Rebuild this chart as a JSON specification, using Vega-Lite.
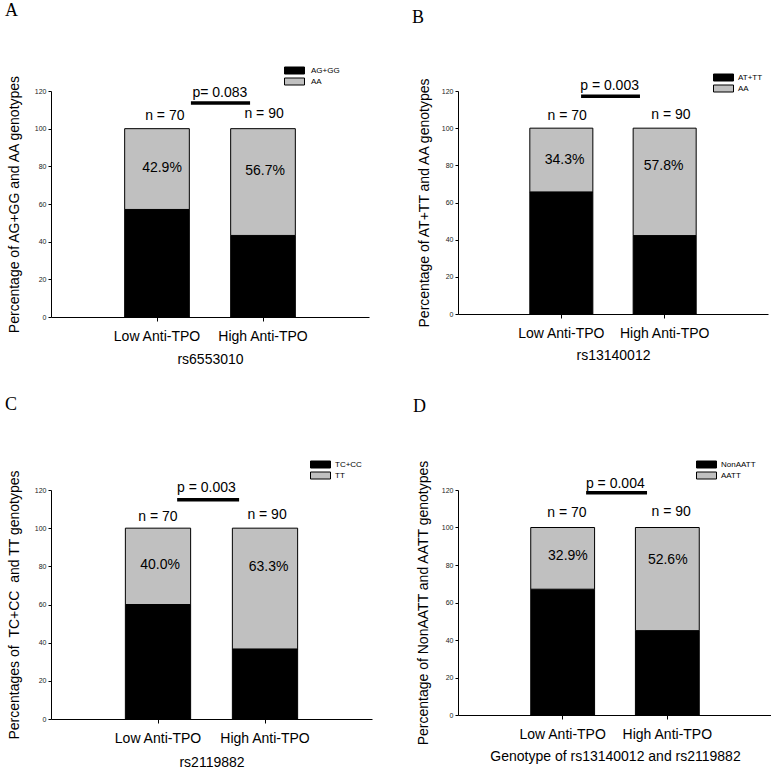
{
  "$schema": "https://vega.github.io/schema/vega-lite/v6.json",
  "padding": {"left": 5, "top": 2, "right": 0, "bottom": 0},
  "background": "white",
  "config": {
    "font": "Liberation Sans",
    "view": {"stroke": null},
    "axis": {"grid": false, "domainColor": "#000", "tickColor": "#000", "labelColor": "#222", "titleColor": "#000", "titleFontWeight": "normal", "titleFont": "Liberation Sans", "labelFont": "Liberation Sans"},
    "axisY": {"values": [0, 20, 40, 60, 80, 100, 120], "labelFontSize": 7, "tickSize": 3, "labelPadding": 2, "titleFontSize": 14, "titleBaseline": "middle", "titleAlign": "center"},
    "axisX": {"labelAngle": 0, "labelFontSize": 14, "labelColor": "#000", "tickSize": 4, "labelPadding": 8, "titleFontSize": 14, "titleBaseline": "middle"},
    "legend": {"labelFont": "Liberation Sans", "labelColor": "#000"}
  },
  "columns": 2,
  "spacing": {"row": 173, "column": 86},
  "bounds": "flush",
  "resolve": {"scale": {"color": "independent", "x": "independent", "y": "independent"}, "legend": {"color": "independent"}},
  "concat": [
    {
      "width": 318, "height": 226,
      "title": {"text": "A", "anchor": "start", "frame": "group", "font": "Liberation Serif", "fontSize": 18, "fontWeight": "normal", "dx": -46, "offset": 46, "color": "#000"},
      "resolve": {"scale": {"x": "independent"}},
      "layer": [
        {
          "data": {"values": [
            {"group": "Low Anti-TPO", "genotype": "AG+GG", "pct": 57.1, "ord": 1},
            {"group": "Low Anti-TPO", "genotype": "AA", "pct": 42.9, "ord": 2},
            {"group": "High Anti-TPO", "genotype": "AG+GG", "pct": 43.3, "ord": 1},
            {"group": "High Anti-TPO", "genotype": "AA", "pct": 56.7, "ord": 2}
          ]},
          "mark": {"type": "bar", "stroke": "#000", "strokeWidth": 1},
          "encoding": {
            "x": {"field": "group", "type": "nominal", "sort": ["Low Anti-TPO", "High Anti-TPO"],
              "scale": {"paddingInner": 0.39, "paddingOuter": 0.695},
              "axis": {"title": "rs6553010", "titleY": 42}},
            "y": {"field": "pct", "type": "quantitative", "stack": "zero",
              "scale": {"domain": [0, 120], "nice": false},
              "axis": {"title": "Percentage of AG+GG and AA genotypes", "titleX": -37, "titleY": 113}},
            "color": {"field": "genotype", "type": "nominal",
              "scale": {"domain": ["AG+GG", "AA"], "range": ["#000000", "#c0c0c0"]},
              "legend": {"orient": "none", "legendX": 233, "legendY": -25, "title": null, "symbolType": "M-1,-0.35H1V0.35H-1Z", "symbolSize": 400, "symbolStrokeColor": "#000", "symbolStrokeWidth": 1, "symbolOpacity": 1, "labelFontSize": 8, "labelOffset": 6, "clipHeight": 9, "rowPadding": 2, "padding": 0}},
            "order": {"field": "ord", "type": "quantitative"}
          }
        },
        {
          "data": {"values": [
            {"label": "n = 70", "px": 35.8, "py": 106.7},
            {"label": "n = 90", "px": 67.0, "py": 107.8},
            {"label": "42.9%", "px": 34.9, "py": 78.9},
            {"label": "56.7%", "px": 67.3, "py": 77.5},
            {"label": "p= 0.083", "px": 53.1, "py": 119}
          ]},
          "mark": {"type": "text", "fontSize": 14, "align": "center", "baseline": "middle", "color": "#000"},
          "encoding": {
            "x": {"field": "px", "type": "quantitative", "scale": {"domain": [0, 100], "nice": false}, "axis": null},
            "y": {"field": "py", "type": "quantitative", "scale": {"domain": [0, 120], "nice": false}, "axis": {"title": "Percentage of AG+GG and AA genotypes", "titleX": -37, "titleY": 113}},
            "text": {"field": "label"}
          }
        },
        {
          "data": {"values": [{"x1": 44.0, "x2": 62.6, "py": 113.6}]},
          "mark": {"type": "rule", "strokeWidth": 3.5, "color": "#000"},
          "encoding": {
            "x": {"field": "x1", "type": "quantitative", "scale": {"domain": [0, 100], "nice": false}, "axis": null},
            "x2": {"field": "x2"},
            "y": {"field": "py", "type": "quantitative", "scale": {"domain": [0, 120], "nice": false}, "axis": {"title": "Percentage of AG+GG and AA genotypes", "titleX": -37, "titleY": 113}}
          }
        }
      ]
    },
    {
      "width": 310, "height": 223,
      "title": {"text": "B", "anchor": "start", "frame": "group", "font": "Liberation Serif", "fontSize": 18, "fontWeight": "normal", "dx": -46, "offset": 46, "color": "#000"},
      "resolve": {"scale": {"x": "independent"}},
      "layer": [
        {
          "data": {"values": [
            {"group": "Low Anti-TPO", "genotype": "AT+TT", "pct": 65.7, "ord": 1},
            {"group": "Low Anti-TPO", "genotype": "AA", "pct": 34.3, "ord": 2},
            {"group": "High Anti-TPO", "genotype": "AT+TT", "pct": 42.2, "ord": 1},
            {"group": "High Anti-TPO", "genotype": "AA", "pct": 57.8, "ord": 2}
          ]},
          "mark": {"type": "bar", "stroke": "#000", "strokeWidth": 1},
          "encoding": {
            "x": {"field": "group", "type": "nominal", "sort": ["Low Anti-TPO", "High Anti-TPO"],
              "scale": {"paddingInner": 0.39, "paddingOuter": 0.695},
              "axis": {"title": "rs13140012", "titleY": 41}},
            "y": {"field": "pct", "type": "quantitative", "stack": "zero",
              "scale": {"domain": [0, 120], "nice": false},
              "axis": {"title": "Percentage of AT+TT and AA genotypes", "titleX": -34, "titleY": 111.5}},
            "color": {"field": "genotype", "type": "nominal",
              "scale": {"domain": ["AT+TT", "AA"], "range": ["#000000", "#c0c0c0"]},
              "legend": {"orient": "none", "legendX": 255, "legendY": -18, "title": null, "symbolType": "M-1,-0.35H1V0.35H-1Z", "symbolSize": 400, "symbolStrokeColor": "#000", "symbolStrokeWidth": 1, "symbolOpacity": 1, "labelFontSize": 8, "labelOffset": 4, "clipHeight": 9, "rowPadding": 2, "padding": 0}},
            "order": {"field": "ord", "type": "quantitative"}
          }
        },
        {
          "data": {"values": [
            {"label": "n = 70", "px": 35.2, "py": 106.4},
            {"label": "n = 90", "px": 68.7, "py": 106.9},
            {"label": "34.3%", "px": 34.4, "py": 82.7},
            {"label": "57.8%", "px": 66.3, "py": 79.5},
            {"label": "p = 0.003", "px": 48.9, "py": 122.5}
          ]},
          "mark": {"type": "text", "fontSize": 14, "align": "center", "baseline": "middle", "color": "#000"},
          "encoding": {
            "x": {"field": "px", "type": "quantitative", "scale": {"domain": [0, 100], "nice": false}, "axis": null},
            "y": {"field": "py", "type": "quantitative", "scale": {"domain": [0, 120], "nice": false}, "axis": {"title": "Percentage of AT+TT and AA genotypes", "titleX": -34, "titleY": 111.5}},
            "text": {"field": "label"}
          }
        },
        {
          "data": {"values": [{"x1": 39.7, "x2": 58.7, "py": 117.2}]},
          "mark": {"type": "rule", "strokeWidth": 3.5, "color": "#000"},
          "encoding": {
            "x": {"field": "x1", "type": "quantitative", "scale": {"domain": [0, 100], "nice": false}, "axis": null},
            "x2": {"field": "x2"},
            "y": {"field": "py", "type": "quantitative", "scale": {"domain": [0, 120], "nice": false}, "axis": {"title": "Percentage of AT+TT and AA genotypes", "titleX": -34, "titleY": 111.5}}
          }
        }
      ]
    },
    {
      "width": 321, "height": 229,
      "title": {"text": "C", "anchor": "start", "frame": "group", "font": "Liberation Serif", "fontSize": 18, "fontWeight": "normal", "dx": -46, "offset": 46, "color": "#000"},
      "resolve": {"scale": {"x": "independent"}},
      "layer": [
        {
          "data": {"values": [
            {"group": "Low Anti-TPO", "genotype": "TC+CC", "pct": 60.0, "ord": 1},
            {"group": "Low Anti-TPO", "genotype": "TT", "pct": 40.0, "ord": 2},
            {"group": "High Anti-TPO", "genotype": "TC+CC", "pct": 36.7, "ord": 1},
            {"group": "High Anti-TPO", "genotype": "TT", "pct": 63.3, "ord": 2}
          ]},
          "mark": {"type": "bar", "stroke": "#000", "strokeWidth": 1},
          "encoding": {
            "x": {"field": "group", "type": "nominal", "sort": ["Low Anti-TPO", "High Anti-TPO"],
              "scale": {"paddingInner": 0.39, "paddingOuter": 0.695},
              "axis": {"title": "rs2119882", "titleY": 43}},
            "y": {"field": "pct", "type": "quantitative", "stack": "zero",
              "scale": {"domain": [0, 120], "nice": false},
              "axis": {"title": "Percentages of \u00a0TC+CC \u00a0and TT genotypes", "titleX": -37, "titleY": 114.5}},
            "color": {"field": "genotype", "type": "nominal",
              "scale": {"domain": ["TC+CC", "TT"], "range": ["#000000", "#c0c0c0"]},
              "legend": {"orient": "none", "legendX": 259, "legendY": -30, "title": null, "symbolType": "M-1,-0.35H1V0.35H-1Z", "symbolSize": 400, "symbolStrokeColor": "#000", "symbolStrokeWidth": 1, "symbolOpacity": 1, "labelFontSize": 8, "labelOffset": 4, "clipHeight": 9, "rowPadding": 2, "padding": 0}},
            "order": {"field": "ord", "type": "quantitative"}
          }
        },
        {
          "data": {"values": [
            {"label": "n = 70", "px": 33.3, "py": 106.0},
            {"label": "n = 90", "px": 67.3, "py": 107.0},
            {"label": "40.0%", "px": 34.0, "py": 80.9},
            {"label": "63.3%", "px": 67.8, "py": 79.8},
            {"label": "p = 0.003", "px": 48.4, "py": 121}
          ]},
          "mark": {"type": "text", "fontSize": 14, "align": "center", "baseline": "middle", "color": "#000"},
          "encoding": {
            "x": {"field": "px", "type": "quantitative", "scale": {"domain": [0, 100], "nice": false}, "axis": null},
            "y": {"field": "py", "type": "quantitative", "scale": {"domain": [0, 120], "nice": false}, "axis": {"title": "Percentages of \u00a0TC+CC \u00a0and TT genotypes", "titleX": -37, "titleY": 114.5}},
            "text": {"field": "label"}
          }
        },
        {
          "data": {"values": [{"x1": 39.3, "x2": 58.6, "py": 114.9}]},
          "mark": {"type": "rule", "strokeWidth": 3.5, "color": "#000"},
          "encoding": {
            "x": {"field": "x1", "type": "quantitative", "scale": {"domain": [0, 100], "nice": false}, "axis": null},
            "x2": {"field": "x2"},
            "y": {"field": "py", "type": "quantitative", "scale": {"domain": [0, 120], "nice": false}, "axis": {"title": "Percentages of \u00a0TC+CC \u00a0and TT genotypes", "titleX": -37, "titleY": 114.5}}
          }
        }
      ]
    },
    {
      "width": 314, "height": 225,
      "title": {"text": "D", "anchor": "start", "frame": "group", "font": "Liberation Serif", "fontSize": 18, "fontWeight": "normal", "dx": -45, "offset": 44, "color": "#000"},
      "resolve": {"scale": {"x": "independent"}},
      "layer": [
        {
          "data": {"values": [
            {"group": "Low Anti-TPO", "genotype": "NonAATT", "pct": 67.1, "ord": 1},
            {"group": "Low Anti-TPO", "genotype": "AATT", "pct": 32.9, "ord": 2},
            {"group": "High Anti-TPO", "genotype": "NonAATT", "pct": 45.0, "ord": 1},
            {"group": "High Anti-TPO", "genotype": "AATT", "pct": 55.0, "ord": 2}
          ]},
          "mark": {"type": "bar", "stroke": "#000", "strokeWidth": 1},
          "encoding": {
            "x": {"field": "group", "type": "nominal", "sort": ["Low Anti-TPO", "High Anti-TPO"],
              "scale": {"paddingInner": 0.39, "paddingOuter": 0.695},
              "axis": {"title": "Genotype of rs13140012 and rs2119882", "titleY": 41}},
            "y": {"field": "pct", "type": "quantitative", "stack": "zero",
              "scale": {"domain": [0, 120], "nice": false},
              "axis": {"title": "Percentage of NonAATT and AATT genotypes", "titleX": -35, "titleY": 112.5}},
            "color": {"field": "genotype", "type": "nominal",
              "scale": {"domain": ["NonAATT", "AATT"], "range": ["#000000", "#c0c0c0"]},
              "legend": {"orient": "none", "legendX": 238, "legendY": -30, "title": null, "symbolType": "M-1,-0.35H1V0.35H-1Z", "symbolSize": 400, "symbolStrokeColor": "#000", "symbolStrokeWidth": 1, "symbolOpacity": 1, "labelFontSize": 8, "labelOffset": 4, "clipHeight": 9, "rowPadding": 2, "padding": 0}},
            "order": {"field": "ord", "type": "quantitative"}
          }
        },
        {
          "data": {"values": [
            {"label": "n = 70", "px": 34.7, "py": 107.6},
            {"label": "n = 90", "px": 67.9, "py": 108.4},
            {"label": "32.9%", "px": 35.0, "py": 84.8},
            {"label": "52.6%", "px": 66.8, "py": 82.7},
            {"label": "p = 0.004", "px": 50.1, "py": 123}
          ]},
          "mark": {"type": "text", "fontSize": 14, "align": "center", "baseline": "middle", "color": "#000"},
          "encoding": {
            "x": {"field": "px", "type": "quantitative", "scale": {"domain": [0, 100], "nice": false}, "axis": null},
            "y": {"field": "py", "type": "quantitative", "scale": {"domain": [0, 120], "nice": false}, "axis": {"title": "Percentage of NonAATT and AATT genotypes", "titleX": -35, "titleY": 112.5}},
            "text": {"field": "label"}
          }
        },
        {
          "data": {"values": [{"x1": 40.8, "x2": 60.2, "py": 118.6}]},
          "mark": {"type": "rule", "strokeWidth": 3.5, "color": "#000"},
          "encoding": {
            "x": {"field": "x1", "type": "quantitative", "scale": {"domain": [0, 100], "nice": false}, "axis": null},
            "x2": {"field": "x2"},
            "y": {"field": "py", "type": "quantitative", "scale": {"domain": [0, 120], "nice": false}, "axis": {"title": "Percentage of NonAATT and AATT genotypes", "titleX": -35, "titleY": 112.5}}
          }
        }
      ]
    }
  ]
}
